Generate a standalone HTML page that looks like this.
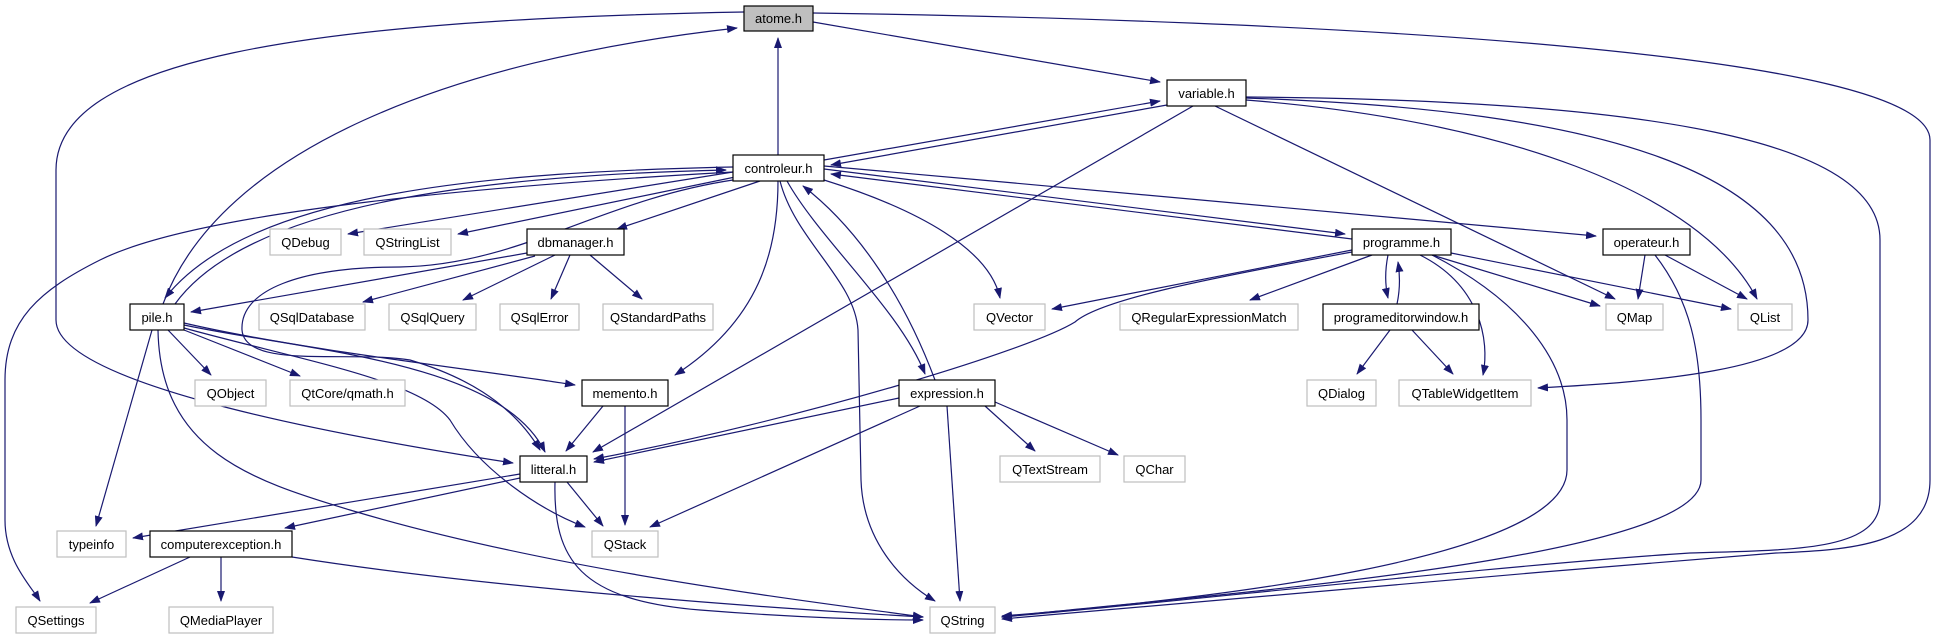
<!DOCTYPE html>
<html><head><meta charset="utf-8"><style>
html,body{margin:0;padding:0;background:#fff;}
svg{display:block;}
text{font-family:"Liberation Sans",sans-serif;font-size:13px;fill:#000;}
.n{fill:#fff;stroke:#000;stroke-width:1.2;}
.x{fill:#fff;stroke:#bfbfbf;stroke-width:1.2;}
.e{fill:none;stroke:#191970;stroke-width:1.2;marker-end:url(#a);}
</style></head><body>
<svg width="1936" height="635" viewBox="0 0 1936 635" xmlns="http://www.w3.org/2000/svg">
<defs><marker id="a" markerUnits="userSpaceOnUse" markerWidth="11" markerHeight="8" refX="10" refY="4" orient="auto"><path d="M0,0 L11,4 L0,8 z" fill="#191970"/></marker></defs>
<g>
<path class="e" d="M813,22 L1160,82"/>
<path class="e" d="M813,13 C1300,20 1930,50 1930,140 L1930,480 C1930,545 1850,550 1776,553 C1500,575 1150,605 1002,619"/>
<path class="e" d="M1246,97 C1650,100 1880,140 1880,240 L1880,500 C1880,550 1800,550 1690,553 C1500,565 1150,605 1002,617"/>
<path class="e" d="M744,12 C300,20 56,60 56,170 L56,320 C56,380 300,430 513,463"/>
<path class="e" d="M778,155 L778,38"/>
<path class="e" d="M163,304 C220,150 450,60 737,28"/>
<path class="e" d="M824,160 L1160,101"/>
<path class="e" d="M1167,105 L831,165"/>
<path class="e" d="M733,167 C500,172 250,190 165,298"/>
<path class="e" d="M175,304 C250,200 500,175 726,170"/>
<path class="e" d="M733,172 L348,234"/>
<path class="e" d="M740,176 L458,234"/>
<path class="e" d="M760,181 L617,229"/>
<path class="e" d="M733,172 C500,185 200,210 100,260 C40,290 5,320 5,380 L5,520 C5,560 30,585 40,601"/>
<path class="e" d="M733,180 C600,200 520,265 400,267 C300,267 240,290 242,330 C245,370 350,350 410,360 C460,375 510,400 540,450"/>
<path class="e" d="M778,181 C778,250 760,320 675,375"/>
<path class="e" d="M780,181 C795,240 855,280 858,330 L861,480 C863,540 900,580 935,601"/>
<path class="e" d="M787,181 C820,240 900,310 925,374"/>
<path class="e" d="M935,380 C905,300 860,230 803,186"/>
<path class="e" d="M824,180 C920,210 990,250 1000,298"/>
<path class="e" d="M824,169 L1345,234"/>
<path class="e" d="M1352,239 L831,174"/>
<path class="e" d="M824,166 C1100,190 1400,220 1596,236"/>
<path class="e" d="M1193,106 L593,452"/>
<path class="e" d="M1215,106 L1615,299"/>
<path class="e" d="M1246,100 C1500,120 1700,190 1757,299"/>
<path class="e" d="M1246,98 C1600,110 1808,170 1808,320 C1808,370 1650,382 1538,388"/>
<path class="e" d="M1352,250 L1052,309"/>
<path class="e" d="M1352,252 C1200,280 1100,300 1075,322 C1030,350 800,420 594,459"/>
<path class="e" d="M1372,255 L1250,300"/>
<path class="e" d="M1388,255 C1385,270 1385,285 1388,298"/>
<path class="e" d="M1397,304 C1400,290 1400,275 1398,262"/>
<path class="e" d="M1420,255 C1480,285 1490,340 1483,375"/>
<path class="e" d="M1432,255 C1520,300 1567,360 1567,420 L1567,470 C1567,560 1200,600 1002,616"/>
<path class="e" d="M1432,255 L1600,306"/>
<path class="e" d="M1451,253 L1731,309"/>
<path class="e" d="M1645,255 L1638,299"/>
<path class="e" d="M1665,255 L1747,299"/>
<path class="e" d="M1655,255 C1690,300 1701,350 1701,420 L1701,480 C1701,560 1200,595 1002,617"/>
<path class="e" d="M1390,330 L1357,374"/>
<path class="e" d="M1412,330 L1453,374"/>
<path class="e" d="M527,253 L191,312"/>
<path class="e" d="M535,256 L363,302"/>
<path class="e" d="M555,255 L463,300"/>
<path class="e" d="M570,255 L551,299"/>
<path class="e" d="M590,255 L642,299"/>
<path class="e" d="M168,330 L211,375"/>
<path class="e" d="M184,330 L300,376"/>
<path class="e" d="M184,323 C300,350 480,370 575,385"/>
<path class="e" d="M184,325 C300,350 500,360 545,452"/>
<path class="e" d="M184,328 C300,360 420,380 450,420 C480,470 540,510 585,527"/>
<path class="e" d="M152,330 L96,526"/>
<path class="e" d="M158,330 C160,450 250,480 350,510 C550,570 800,600 923,617"/>
<path class="e" d="M603,406 L566,451"/>
<path class="e" d="M625,406 L625,525"/>
<path class="e" d="M899,398 L594,462"/>
<path class="e" d="M920,406 L650,527"/>
<path class="e" d="M947,406 L960,601"/>
<path class="e" d="M985,406 L1035,451"/>
<path class="e" d="M995,402 L1118,455"/>
<path class="e" d="M520,474 L133,538"/>
<path class="e" d="M520,478 L285,528"/>
<path class="e" d="M567,482 L603,526"/>
<path class="e" d="M555,482 C553,560 580,600 700,610 C800,618 880,620 923,620"/>
<path class="e" d="M190,557 L90,603"/>
<path class="e" d="M221,557 L221,601"/>
<path class="e" d="M292,557 C500,590 800,610 923,617"/>
</g>
<g text-anchor="middle">
<rect x="744" y="6" width="69" height="25" fill="#bfbfbf" stroke="#000" stroke-width="1.2"/><text x="778.5" y="23">atome.h</text>
<rect class="n" x="1167" y="80" width="79" height="26"/><text x="1206.5" y="98">variable.h</text>
<rect class="n" x="733" y="155" width="91" height="26"/><text x="778.5" y="173">controleur.h</text>
<rect class="x" x="270" y="229" width="71" height="26"/><text x="305.5" y="247">QDebug</text>
<rect class="x" x="364" y="229" width="87" height="26"/><text x="407.5" y="247">QStringList</text>
<rect class="n" x="527" y="229" width="97" height="26"/><text x="575.5" y="247">dbmanager.h</text>
<rect class="n" x="1352" y="229" width="99" height="26"/><text x="1401.5" y="247">programme.h</text>
<rect class="n" x="1603" y="229" width="87" height="26"/><text x="1646.5" y="247">operateur.h</text>
<rect class="n" x="130" y="304" width="54" height="26"/><text x="157" y="322">pile.h</text>
<rect class="x" x="259" y="304" width="106" height="26"/><text x="312" y="322">QSqlDatabase</text>
<rect class="x" x="389" y="304" width="87" height="26"/><text x="432.5" y="322">QSqlQuery</text>
<rect class="x" x="500" y="304" width="79" height="26"/><text x="539.5" y="322">QSqlError</text>
<rect class="x" x="603" y="304" width="110" height="26"/><text x="658" y="322">QStandardPaths</text>
<rect class="x" x="974" y="304" width="71" height="26"/><text x="1009.5" y="322">QVector</text>
<rect class="x" x="1120" y="304" width="178" height="26"/><text x="1209" y="322">QRegularExpressionMatch</text>
<rect class="n" x="1323" y="304" width="156" height="26"/><text x="1401" y="322">programeditorwindow.h</text>
<rect class="x" x="1606" y="304" width="57" height="26"/><text x="1634.5" y="322">QMap</text>
<rect class="x" x="1738" y="304" width="54" height="26"/><text x="1765" y="322">QList</text>
<rect class="x" x="195" y="380" width="71" height="26"/><text x="230.5" y="398">QObject</text>
<rect class="x" x="290" y="380" width="115" height="26"/><text x="347.5" y="398">QtCore/qmath.h</text>
<rect class="n" x="582" y="380" width="86" height="26"/><text x="625" y="398">memento.h</text>
<rect class="n" x="899" y="380" width="96" height="26"/><text x="947" y="398">expression.h</text>
<rect class="x" x="1307" y="380" width="69" height="26"/><text x="1341.5" y="398">QDialog</text>
<rect class="x" x="1399" y="380" width="132" height="26"/><text x="1465" y="398">QTableWidgetItem</text>
<rect class="n" x="520" y="456" width="67" height="26"/><text x="553.5" y="474">litteral.h</text>
<rect class="x" x="1000" y="456" width="100" height="26"/><text x="1050" y="474">QTextStream</text>
<rect class="x" x="1124" y="456" width="61" height="26"/><text x="1154.5" y="474">QChar</text>
<rect class="x" x="57" y="531" width="69" height="26"/><text x="91.5" y="549">typeinfo</text>
<rect class="n" x="150" y="531" width="142" height="26"/><text x="221" y="549">computerexception.h</text>
<rect class="x" x="592" y="531" width="66" height="26"/><text x="625" y="549">QStack</text>
<rect class="x" x="16" y="607" width="80" height="26"/><text x="56" y="625">QSettings</text>
<rect class="x" x="169" y="607" width="104" height="26"/><text x="221" y="625">QMediaPlayer</text>
<rect class="x" x="930" y="607" width="65" height="26"/><text x="962.5" y="625">QString</text>
</g>
</svg>
</body></html>
